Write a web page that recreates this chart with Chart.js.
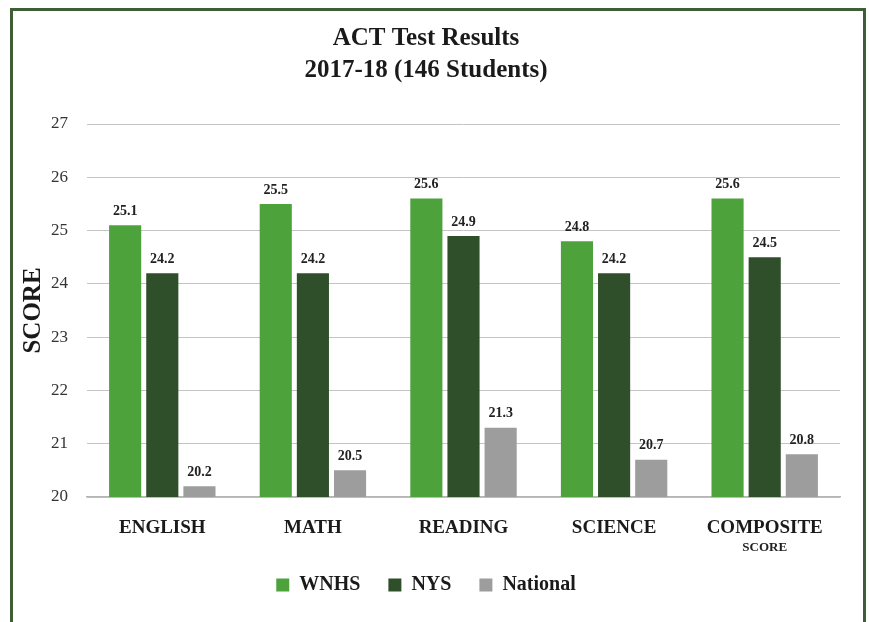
<!DOCTYPE html>
<html>
<head>
<meta charset="utf-8">
<script src="https://cdn.jsdelivr.net/npm/chart.js@4"></script>
<style>
  html, body { margin: 0; padding: 0; background: #fff; }
  #wrap { position: relative; width: 869px; height: 622px; overflow: hidden; }
  canvas { display: block; }
</style>
</head>
<body>
<div id="wrap"><canvas id="c" width="869" height="622"></canvas></div>
<script>
const categories = ["ENGLISH", "MATH", "READING", "SCIENCE", "COMPOSITE"];
const wnhs = [25.1, 25.5, 25.6, 24.8, 25.6];
const nys = [24.2, 24.2, 24.9, 24.2, 24.5];
const national = [20.2, 20.5, 21.3, 20.7, 20.8];
const yTicks = [20, 21, 22, 23, 24, 25, 26, 27];

const SERIF = "'Liberation Serif', 'Times New Roman', serif";

const frame = {
  id: 'frame',
  beforeDraw(chart) {
    const ctx = chart.ctx;
    ctx.save();
    ctx.fillStyle = '#fff';
    ctx.fillRect(0, 0, chart.width, chart.height);
    ctx.strokeStyle = '#3e5e35';
    ctx.lineWidth = 3;
    ctx.strokeRect(11.5, 9.5, 853, 640);
    ctx.restore();
  }
};

const valueLabels = {
  id: 'valueLabels',
  afterDatasetsDraw(chart) {
    const ctx = chart.ctx;
    ctx.save();
    ctx.font = "bold 14px " + SERIF;
    ctx.fillStyle = '#222';
    ctx.textAlign = 'center';
    ctx.textBaseline = 'bottom';
    chart.data.datasets.forEach((ds, i) => {
      const meta = chart.getDatasetMeta(i);
      meta.data.forEach((bar, j) => {
        ctx.fillText(ds.data[j].toFixed(1), bar.x, bar.y - 7);
      });
    });
    // sub-label under COMPOSITE
    const xs = chart.scales.x;
    const idx = categories.indexOf("COMPOSITE");
    ctx.font = "bold 13px " + SERIF;
    ctx.textBaseline = 'middle';
    ctx.fillText("SCORE", xs.getPixelForValue(idx), 548);
    ctx.restore();
  }
};

new Chart(document.getElementById('c'), {
  type: 'bar',
  data: {
    labels: categories,
    datasets: [
      { label: 'WNHS', data: wnhs, backgroundColor: '#4ea23c' },
      { label: 'NYS', data: nys, backgroundColor: '#2f4f2a' },
      { label: 'National', data: national, backgroundColor: '#9d9d9d' }
    ]
  },
  options: {
    responsive: false,
    animation: false,
    devicePixelRatio: 1,
    categoryPercentage: 0.74,
    barPercentage: 0.865,
    layout: { padding: { left: 12, right: 29, top: 0, bottom: 17 } },
    plugins: {
      title: {
        display: true,
        text: ["ACT Test Results", "2017-18 (146 Students)"],
        color: '#1a1a1a',
        font: { family: SERIF, size: 25, weight: 'bold', lineHeight: 1.3 },
        padding: { top: 22, bottom: 37 }
      },
      legend: {
        position: 'bottom',
        labels: {
          color: '#1a1a1a',
          font: { family: SERIF, size: 20, weight: 'bold' },
          boxWidth: 13,
          boxHeight: 13,
          padding: 28
        }
      },
      tooltip: { enabled: false }
    },
    scales: {
      x: {
        grid: { display: false },
        border: { color: '#b5b5b5', width: 1.5 },
        ticks: {
          color: '#1a1a1a',
          font: { family: SERIF, size: 19, weight: 'bold' },
          padding: 12,
          maxRotation: 0
        },
        afterFit(s) { s.height = 50; }
      },
      y: {
        min: 20,
        max: 27,
        afterBuildTicks(s) { s.ticks = yTicks.map(v => ({ value: v })); },
        grid: { color: '#c4c4c4', lineWidth: 1, drawTicks: false },
        border: { display: false },
        ticks: {
          color: '#333',
          font: { family: SERIF, size: 17 },
          padding: 19
        },
        title: {
          display: true,
          text: 'SCORE',
          color: '#1a1a1a',
          font: { family: SERIF, size: 25, weight: 'bold' },
          padding: { top: 7, bottom: 0 }
        },
        afterFit(s) { s.width = 75; }
      }
    }
  },
  plugins: [frame, valueLabels]
});
</script>
</body>
</html>
